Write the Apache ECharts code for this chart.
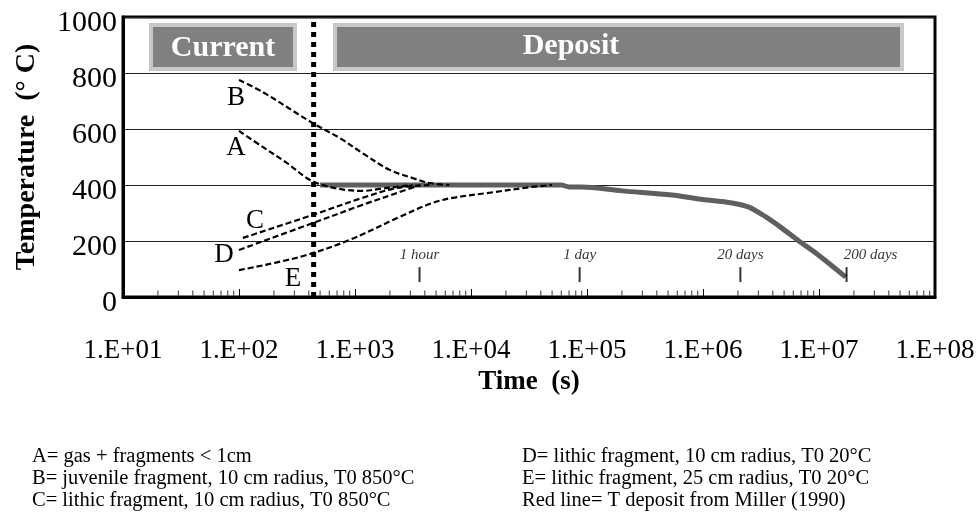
<!DOCTYPE html>
<html><head><meta charset="utf-8">
<script src="https://cdn.jsdelivr.net/npm/echarts@6/dist/echarts.min.js"></script>
<style>html,body{margin:0;padding:0;background:#fff}#c{width:978px;height:519px}</style>
</head><body><div id="c"></div>
<script>
// ---- data (time in seconds, temperature in °C) ----
const xTickLabels = ['1.E+01','1.E+02','1.E+03','1.E+04','1.E+05','1.E+06','1.E+07','1.E+08'];
const timeA = [100, 160, 258, 383, 468, 604, 847, 1160, 1630, 2280, 3130];
const tempA = [593, 536, 479, 425, 407, 393, 382, 379, 386, 393, 400];
const timeB = [100, 160, 432, 736, 1160, 1990, 3130, 4390, 6520];
const tempB = [775, 732, 621, 568, 514, 454, 425, 407, 400];
const timeC = [108, 432, 1160, 2280, 4390];
const tempC = [211, 293, 354, 389, 400];
const timeD = [100, 432, 1160, 2280, 3600];
const tempD = [168, 264, 329, 371, 400];
const timeE = [100, 333, 900, 2420, 4660, 6920, 13600, 33700, 50000];
const tempE = [96, 143, 204, 286, 336, 354, 371, 393, 400];
const timeDeposit = [500, 60000, 70000, 90000, 200000, 540000, 920000, 1780000, 2490000, 3480000, 4790000, 6700000, 9380000, 17000000];
const tempDeposit = [400, 400, 393, 393, 379, 364, 350, 336, 321, 286, 246, 200, 157, 71];
const boundaryTime = 440;
const eventNames = ['1 hour', '1 day', '20 days', '200 days'];
const eventTimes = [3600, 86400, 2100000, 17280000];
const curveNames = ['A', 'B', 'C', 'D', 'E'];
const legendLeft = ['A= gas + fragments < 1cm', 'B= juvenile fragment, 10 cm radius, T0 850°C', 'C= lithic fragment, 10 cm radius, T0 850°C'];
const legendRight = ['D= lithic fragment, 10 cm radius, T0 20°C', 'E= lithic fragment, 25 cm radius, T0 20°C', 'Red line= T deposit from Miller (1990)'];

const F = '"Liberation Serif","Times New Roman",serif';
const pairs = (t, v) => t.map((x, i) => [x, v[i]]);
const minorTicks = [];
for (let n = 1; n < 8; n++) for (let k = 2; k < 10; k++) minorTicks.push([k * Math.pow(10, n), 0]);

const dashed = (name, t, v) => ({
  type: 'line', name, data: pairs(t, v), symbol: 'none', smooth: 0.35, silent: true, z: 4,
  lineStyle: { color: '#000', width: 2.2, type: [6, 3] }
});

const chart = echarts.init(document.getElementById('c'));
const labelPos = { A: [236, 148], B: [236, 98], C: [255, 221], D: [224, 255], E: [293, 279] };

const graphic = [
  { type: 'rect', shape: { x: 149, y: 23, width: 148, height: 48 }, style: { fill: '#c8c8c8' }, z: 1 },
  { type: 'rect', shape: { x: 153, y: 27, width: 140, height: 40 }, style: { fill: '#808080' }, z: 1 },
  { type: 'text', x: 223, y: 48, style: { text: 'Current', fill: '#fff', font: 'bold 30px ' + F, textAlign: 'center', textVerticalAlign: 'middle' }, z: 2 },
  { type: 'rect', shape: { x: 333, y: 23, width: 571, height: 48 }, style: { fill: '#c8c8c8' }, z: 1 },
  { type: 'rect', shape: { x: 337, y: 27, width: 563, height: 40 }, style: { fill: '#808080' }, z: 1 },
  { type: 'text', x: 571, y: 46, style: { text: 'Deposit', fill: '#fff', font: 'bold 30px ' + F, textAlign: 'center', textVerticalAlign: 'middle' }, z: 2 }
];
curveNames.forEach(n => graphic.push({ type: 'text', x: labelPos[n][0], y: labelPos[n][1], style: { text: n, fill: '#000', font: '27px ' + F, textAlign: 'center', textVerticalAlign: 'middle' }, z: 5 }));
legendLeft.forEach((s, i) => graphic.push({ type: 'text', x: 32, y: 457 + i * 22, style: { text: s, fill: '#000', font: '20.5px ' + F, textAlign: 'left', textVerticalAlign: 'middle' } }));
legendRight.forEach((s, i) => graphic.push({ type: 'text', x: 522, y: 457 + i * 22, style: { text: s, fill: '#000', font: '20.5px ' + F, textAlign: 'left', textVerticalAlign: 'middle' } }));

chart.setOption({
  animation: false,
  backgroundColor: '#fff',
  grid: { left: 123, right: 43, top: 17, bottom: 222, show: true, borderColor: '#000', borderWidth: 3, backgroundColor: 'transparent' },
  xAxis: {
    type: 'log', logBase: 10, min: 10, max: 1e8, splitNumber: 7,
    name: 'Time  (s)', nameLocation: 'middle', nameGap: 66,
    nameTextStyle: { fontFamily: F, fontSize: 27, fontWeight: 'bold', color: '#000' },
    axisLine: { show: true, lineStyle: { color: '#000', width: 3 } },
    axisTick: { show: true, inside: true, length: 8, lineStyle: { color: '#000', width: 1 } },
    axisLabel: { fontFamily: F, fontSize: 27, color: '#000', margin: 40, formatter: v => xTickLabels[Math.round(Math.log10(v)) - 1] },
    splitLine: { show: false }
  },
  yAxis: {
    type: 'value', min: 0, max: 1000, interval: 200,
    name: 'Temperature  (° C)', nameLocation: 'middle', nameGap: 82, nameRotate: 90,
    nameTextStyle: { fontFamily: F, fontSize: 28, fontWeight: 'bold', color: '#000' },
    axisLine: { show: true, lineStyle: { color: '#000', width: 3 } },
    axisTick: { show: false },
    axisLabel: {
      margin: 6, formatter: v => '{a|' + v + '}',
      rich: { a: { fontFamily: F, fontSize: 30, color: '#000', padding: [13, 0, 0, 0] } }
    },
    splitLine: { show: true, lineStyle: { color: '#222', width: 1 } }
  },
  graphic,
  series: [
    { type: 'scatter', data: minorTicks, symbol: 'rect', symbolSize: [1, 5], symbolOffset: [0, -4], itemStyle: { color: '#000' }, silent: true, z: 6 },
    { type: 'line', name: 'Deposit', data: pairs(timeDeposit, tempDeposit), symbol: 'none', smooth: 0.3, silent: true, z: 3, lineStyle: { color: '#5f5f5f', width: 5 } },
    dashed('A', timeA, tempA),
    dashed('B', timeB, tempB),
    dashed('C', timeC, tempC),
    dashed('D', timeD, tempD),
    dashed('E', timeE, tempE),
    { type: 'line', name: 'boundary', data: [[boundaryTime, 0], [boundaryTime, 1000]], symbol: 'none', silent: true, z: 5, lineStyle: { color: '#000', width: 5, type: [5, 5] } },
    {
      type: 'scatter', name: 'events', symbol: 'rect', symbolSize: [2, 15], silent: true, z: 6,
      itemStyle: { color: '#000' },
      data: eventTimes.map((t, i) => ({ name: eventNames[i], value: [t, 80], label: i === 3 ? { offset: [24, 0] } : undefined })),
      label: { show: true, position: 'top', distance: 5, formatter: '{b}', fontFamily: F, fontStyle: 'italic', fontSize: 15, color: '#000' }
    }
  ]
});
</script></body></html>
